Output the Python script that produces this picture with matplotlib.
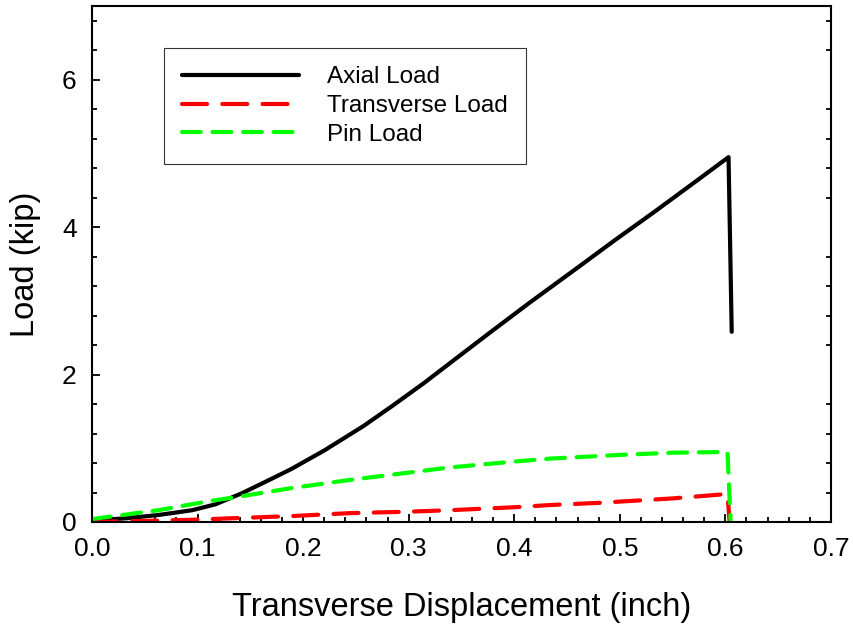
import matplotlib
matplotlib.use("Agg")
import matplotlib.pyplot as plt
from matplotlib.ticker import MultipleLocator

plt.rcParams['font.family'] = ['Liberation Sans', 'DejaVu Sans']
plt.rcParams['lines.scale_dashes'] = False

axial_x = [0.0, 0.032, 0.063, 0.095, 0.117, 0.142, 0.165, 0.189, 0.22, 0.257, 0.285,
           0.314, 0.345, 0.377, 0.415, 0.459, 0.495, 0.532, 0.57, 0.603, 0.606]
axial_y = [0.02, 0.05, 0.095, 0.16, 0.24, 0.39, 0.55, 0.72, 0.97, 1.3, 1.58,
           1.88, 2.22, 2.57, 2.98, 3.44, 3.82, 4.2, 4.6, 4.95, 2.58]

trans_x = [0.0, 0.05, 0.095, 0.15, 0.189, 0.244, 0.3, 0.339, 0.4, 0.434, 0.481, 0.55, 0.602, 0.604]
trans_y = [0.0, 0.015, 0.03, 0.06, 0.08, 0.12, 0.14, 0.16, 0.2, 0.23, 0.26, 0.32, 0.38, 0.0]

pin_x = [0.0, 0.063, 0.11, 0.142, 0.189, 0.244, 0.3, 0.339, 0.4, 0.434, 0.5, 0.55, 0.602, 0.605]
pin_y = [0.04, 0.16, 0.28, 0.35, 0.46, 0.57, 0.67, 0.74, 0.82, 0.86, 0.91, 0.94, 0.95, 0.0]

fig = plt.figure(figsize=(8.54, 6.28), dpi=100)
ax = fig.add_axes([0.1077, 0.1688, 0.8653, 0.8216])

ax.plot(axial_x, axial_y, color='black', lw=3, solid_capstyle='round',
        solid_joinstyle='round', label='Axial Load')
ax.plot(trans_x, trans_y, color='#FF0000', lw=3, dashes=(18, 11),
        dash_capstyle='round', label='Transverse Load')
ax.plot(pin_x, pin_y, color='#00FF00', lw=3, dashes=(13.5, 8.5),
        dash_capstyle='round', label='Pin Load')

ax.set_xlim(0, 0.7)
ax.set_ylim(0, 7)
ax.xaxis.set_major_locator(MultipleLocator(0.1))
ax.xaxis.set_minor_locator(MultipleLocator(0.02))
ax.yaxis.set_major_locator(MultipleLocator(2))
ax.yaxis.set_minor_locator(MultipleLocator(0.4))
ax.xaxis.set_major_formatter(matplotlib.ticker.FormatStrFormatter('%.1f'))
ax.yaxis.set_major_formatter(matplotlib.ticker.FormatStrFormatter('%d'))

for s in ax.spines.values():
    s.set_linewidth(1.5)

ax.tick_params(which='major', direction='in', length=5.8, width=1.3,
               labelsize=19, pad=11, top=False, right=False)
ax.tick_params(which='minor', direction='in', length=3.3, width=1.3,
               top=False, right=True)

ax.set_xlabel('Transverse Displacement (inch)', fontsize=23.5, labelpad=22)
ax.set_ylabel('Load (kip)', fontsize=23.5, labelpad=15)

leg = ax.legend(loc='upper left', bbox_to_anchor=(0.0974, 0.9186), fontsize=17.5,
                frameon=True, fancybox=False, edgecolor='black', handlelength=4.8,
                handletextpad=1.15, borderpad=0.75, labelspacing=0.28, borderaxespad=0)
leg.get_frame().set_linewidth(0.8)

fig.savefig('out.png', dpi=100)
